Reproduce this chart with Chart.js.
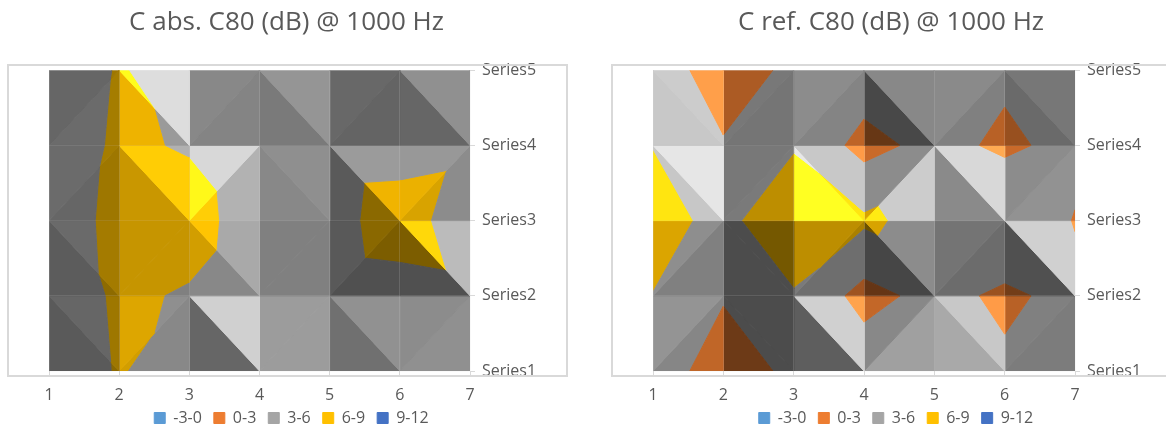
<!DOCTYPE html>
<html>
<head>
<meta charset="utf-8">
<script src="https://cdn.jsdelivr.net/npm/chart.js@4"></script>
<style>
    html, body { margin: 0; padding: 0; background: #fff; overflow: hidden; width: 1166px; height: 428px; }
    .wrap { position: absolute; top: 0; height: 428px; }
    .frame { position: absolute; top: 64px; height: 309px; border: 2px solid #d9d9d9; pointer-events: none; }
</style>
</head>
<body>
<div class="wrap" style="left:0;width:573px"><canvas id="chartAbs"></canvas></div>
<div class="wrap" style="left:604px;width:588px"><canvas id="chartRef"></canvas></div>
<div class="frame" style="left:7px;width:557px"></div>
<div class="frame" style="left:611px;width:600px"></div>
<script>
// Eixos e faixas
const columns = [1, 2, 3, 4, 5, 6, 7];
const seriesLabels = ['Series1', 'Series2', 'Series3', 'Series4', 'Series5'];
const bandLabels = ['-3-0', '0-3', '3-6', '6-9', '9-12'];
const bandEdges = [-3, 0, 3, 6, 9, 12];
const bandColors = [[91, 155, 213], [237, 125, 49], [165, 165, 165], [255, 192, 0], [68, 114, 196]];

// C abs. C80 (dB) @ 1000 Hz
const absSeries1 = [4.45, 6.2, 4.7, 5, 4.5, 5, 5];
const absSeries2 = [4.55, 6.36, 5.81, 4.58, 5.4, 5.52, 5.7];
const absSeries3 = [5.15, 6.44, 6.93, 4.78, 5.55, 6.6, 5.27];
const absSeries4 = [4.76, 6.33, 5.83, 4.58, 5.42, 5.49, 5.7];
const absSeries5 = [4.47, 6.18, 4.96, 5, 5, 5, 5];

// C ref. C80 (dB) @ 1000 Hz
const refSeries1 = [3.55, 2.5, 3.21, 4.86, 5, 3.52, 4];
const refSeries2 = [5.93, 3.08, 5.7, 2.0, 3.96, 2.46, 3.9];
const refSeries3 = [7.27, 5.05, 8.7, 6.52, 5.01, 5.84, 2.85];
const refSeries4 = [5.93, 3.08, 5.7, 2.0, 3.96, 2.46, 3.9];
const refSeries5 = [3.55, 2.5, 3.21, 4.86, 5, 3.52, 4];

// Diagonal de cada célula e tom de cinza das duas facetas (linha de cima primeiro)
const absDiagonals = ['/\\/\\/\\', '/\\/\\\\/', '\\/\\//\\', '\\/\\/\\/'];
const refDiagonals = ['\\//\\/\\', '\\/\\/\\/', '/\\/\\/\\', '/\\\\/\\/'];
const absShades = [
    [0x66, 0x6b, 0xd9, 0x9a, 0x88, 0x84, 0x95, 0x7a, 0x68, 0x64, 0x90, 0x66],
    [0x6b, 0x66, 0xaf, 0x82, 0xd4, 0xb0, 0x8f, 0x88, 0x9b, 0x5a, 0x98, 0x8c],
    [0x6a, 0x5c, 0x80, 0x80, 0xa8, 0x88, 0x80, 0x80, 0x59, 0x50, 0xb8, 0x50],
    [0x66, 0x5a, 0x8f, 0x88, 0xcc, 0x66, 0x9c, 0x9c, 0x91, 0x70, 0x8c, 0x90]
];
const refShades = [
    [0xc8, 0xc4, 0x78, 0x75, 0x8c, 0x84, 0x88, 0x48, 0x8a, 0x80, 0x77, 0x6a],
    [0xe2, 0xc3, 0x78, 0x7a, 0xc4, 0xe4, 0x8c, 0xc8, 0xd4, 0x8a, 0x8c, 0x92],
    [0x8e, 0x80, 0x4c, 0x4c, 0x7a, 0x6e, 0x8c, 0x46, 0x74, 0x6c, 0xcc, 0x50],
    [0x94, 0x86, 0x4c, 0x4c, 0xcc, 0x5e, 0x88, 0xa0, 0xc4, 0xa8, 0x80, 0x7c]
];

const fontName = '"Open Sans", sans-serif';
const textColor = '#595959';

// Corta o polígono mantendo só a parte de um lado do nível z
function clipByLevel(poly, level, keepAbove) {
    const out = [];
    poly.forEach((p, i) => {
        const q = poly[(i + 1) % poly.length];
        const pIn = keepAbove ? p.z >= level : p.z <= level;
        const qIn = keepAbove ? q.z >= level : q.z <= level;
        if (pIn) out.push(p);
        if (pIn !== qIn) {
            const t = (level - p.z) / (q.z - p.z);
            out.push({ x: p.x + t * (q.x - p.x), y: p.y + t * (q.y - p.y), z: level });
        }
    });
    return out;
}

// Cor da faixa multiplicada pelo sombreamento da faceta
function shadeColor(band, gray) {
    const f = gray / 165;
    const c = bandColors[band].map(v => {
        const m = Math.min(255, v * f);
        return Math.round(f > 1 ? m + (255 - m) * (f - 1) * 0.35 : m);
    });
    return `rgb(${c[0]},${c[1]},${c[2]})`;
}

function buildDatasets(grid, diagonals, shades) {
    const datasets = bandLabels.map((label, b) => ({
        label: label,
        data: [],
        backgroundColor: shadeColor(b, 165),
        borderColor: shadeColor(b, 165)
    }));

    diagonals.forEach((row, r) => {
        const yTop = seriesLabels.length - r;
        for (let c = 0; c < columns.length - 1; c++) {
            const v = (i, y) => ({ x: columns[i], y: y, z: grid[y - 1][i] });
            const tl = v(c, yTop), tr = v(c + 1, yTop);
            const bl = v(c, yTop - 1), br = v(c + 1, yTop - 1);
            const facets = row[c] === '/'
                ? [[bl, tl, tr], [bl, br, tr]]
                : [[tl, tr, br], [tl, bl, br]];

            facets.forEach((tri, k) => {
                const gray = shades[r][c * 2 + k];
                bandLabels.forEach((label, b) => {
                    let piece = clipByLevel(tri, bandEdges[b], true);
                    if (piece.length) piece = clipByLevel(piece, bandEdges[b + 1], false);
                    if (piece.length < 3) return;
                    const color = shadeColor(b, gray);
                    datasets.push({
                        label: '',
                        data: piece.concat([piece[0]]).map(p => ({ x: p.x, y: p.y })),
                        showLine: true,
                        fill: 'shape',
                        tension: 0,
                        pointRadius: 0,
                        borderWidth: 1,
                        borderColor: color,
                        backgroundColor: color
                    });
                });
            });
        }
    });
    return datasets;
}

// O Chart.js corta os rótulos na caixa do eixo: alarga as caixas depois do layout
const widenAxes = {
    id: 'widenAxes',
    afterLayout(chart) {
        chart.scales.x.bottom += 12;
        chart.scales.y.right += 30;
        chart.legend.left += 10; // legenda um pouco à direita do título
    }
};

function makeChart(id, titleText, grid, diagonals, shades, rightPad) {
    return new Chart(document.getElementById(id).getContext('2d'), {
        type: 'scatter',
        data: { datasets: buildDatasets(grid, diagonals, shades) },
        plugins: [widenAxes],
        options: {
            responsive: true,
            maintainAspectRatio: false,
            animation: false,
            layout: { padding: { left: 49, right: rightPad, top: 0, bottom: -8 } },
            plugins: {
                title: {
                    display: true,
                    text: titleText,
                    color: textColor,
                    font: { family: fontName, size: 26, weight: 'normal' },
                    padding: { top: 7, bottom: 32 }
                },
                legend: {
                    position: 'bottom',
                    labels: {
                        boxWidth: 11,
                        boxHeight: 11,
                        padding: 12,
                        color: textColor,
                        font: { family: fontName, size: 16 },
                        filter: item => item.text !== ''
                    }
                },
                tooltip: { enabled: false }
            },
            scales: {
                x: {
                    type: 'linear',
                    min: columns[0],
                    max: columns[columns.length - 1],
                    afterFit: s => { s.height = 27; },
                    ticks: { stepSize: 1, padding: 10, color: textColor, font: { family: fontName, size: 16 }, maxRotation: 0 },
                    border: { display: false },
                    grid: { color: 'rgba(217,217,217,0.18)', tickColor: '#d9d9d9', tickLength: 5, z: 1 }
                },
                y: {
                    type: 'linear',
                    position: 'right',
                    min: 1,
                    max: seriesLabels.length,
                    afterFit: s => { s.width = 54; },
                    ticks: {
                        stepSize: 1,
                        padding: 7,
                        color: textColor,
                        font: { family: fontName, size: 16 },
                        callback: value => seriesLabels[value - 1]
                    },
                    border: { display: false },
                    grid: { color: 'rgba(217,217,217,0.12)', tickColor: '#d9d9d9', tickLength: 5, z: 1 }
                }
            }
        }
    });
}

makeChart('chartAbs', 'C abs. C80 (dB) @ 1000 Hz',
    [absSeries1, absSeries2, absSeries3, absSeries4, absSeries5], absDiagonals, absShades, 49);
makeChart('chartRef', 'C ref. C80 (dB) @ 1000 Hz',
    [refSeries1, refSeries2, refSeries3, refSeries4, refSeries5], refDiagonals, refShades, 63);
</script>
</body>
</html>
